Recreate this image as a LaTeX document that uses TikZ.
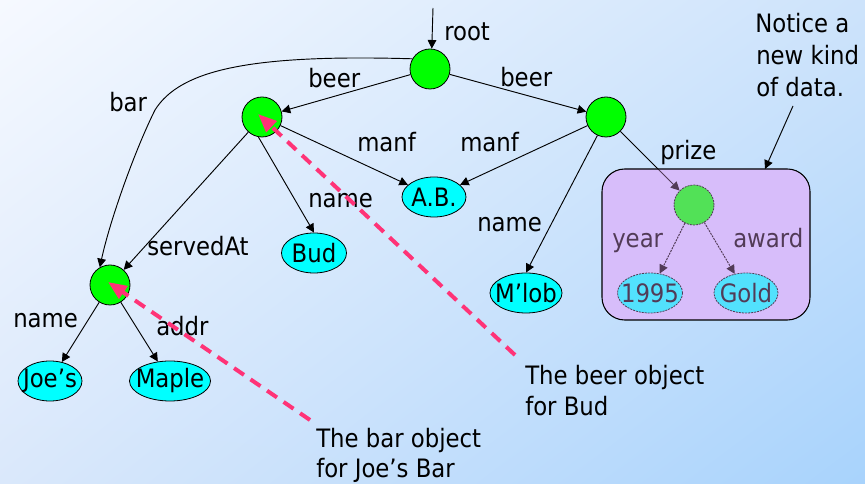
\documentclass[tikz,border=0pt]{standalone}
\usepackage{fontspec}
\setmainfont{DejaVu Sans Condensed}
\usetikzlibrary{shapes.geometric,arrows.meta,shadings}
\definecolor{bgUL}{RGB}{246,249,255}
\definecolor{bgUR}{RGB}{205,227,251}
\definecolor{bgLL}{RGB}{218,232,251}
\definecolor{bgLR}{RGB}{168,211,252}
\definecolor{objgreen}{RGB}{0,255,0}
\definecolor{valcyan}{RGB}{0,255,255}
\definecolor{notepink}{RGB}{255,51,119}
\definecolor{boxbase}{RGB}{205,200,250}
\definecolor{boxcheck}{RGB}{235,170,250}
\begin{document}
\begin{tikzpicture}[x=0.75pt,y=-0.75pt,
  font=\fontsize{19}{23}\selectfont,
  obj/.style={circle, draw=black, line width=0.6pt, fill=objgreen, minimum size=30pt, inner sep=0pt},
  val/.style={ellipse, draw=black, line width=0.6pt, fill=valcyan, minimum height=30pt, inner sep=0pt},
  edge/.style={draw=black, line width=0.7pt, -{Triangle[length=6.5pt,width=6.5pt]}},
  dith/.style={dash pattern=on 1.5pt off 0.75pt},
  lbl/.style={anchor=base west, inner sep=0pt, text=black},
  notearrow/.style={draw=notepink, line width=3pt, dash pattern=on 9pt off 6pt, -{Triangle[length=14pt,width=11pt]}}
]
\useasboundingbox (0,0) rectangle (865,484);
\shade[upper left=bgUL, upper right=bgUR, lower left=bgLL, lower right=bgLR] (0,0) rectangle (865,484);

% box background
\coordinate (boxnw) at (602,169);
\coordinate (boxse) at (810,320);
\fill[boxbase, rounded corners=17pt] (boxnw) rectangle (boxse);

% nodes
\node[obj] (root) at (430,69) {};
\node[obj] (lb) at (262,117) {};
\node[obj] (rb) at (606,117) {};
\node[obj] (bar) at (110,285) {};
\node[obj, dith] (prize) at (694,205) {};
\node[val, minimum width=48pt, label=center:{Joe’s}] (joe) at (50,381) {};
\node[val, minimum width=60.75pt, label=center:{Maple}] (maple) at (170,381) {};
\node[val, minimum width=48.75pt, label=center:{Bud}] (bud) at (314,253) {};
\node[val, minimum width=48pt, label=center:{A.B.}] (ab) at (434,197) {};
\node[val, minimum width=54pt, label=center:{M’lob}] (mlob) at (526,293) {};
\node[val, dith, minimum width=48.75pt, label=center:{1995}] (y1995) at (650,293) {};
\node[val, dith, minimum width=48pt, label=center:{Gold}] (gold) at (746,293) {};

% edges
\coordinate (rootin) at (433,8);
\draw[edge] (rootin) -- (root.85);
\draw[edge] (root) -- (lb);
\draw[edge] (root) -- (rb);
\draw[edge] (root.150) .. controls (250,54) and (180,70) .. (155,110)
  .. controls (135,150) and (110,220) .. (bar.120);
\draw[edge] (lb) -- (bar);
\draw[edge] (lb.260) -- (bud.north);
\draw[edge] (lb) -- (ab);
\draw[edge] (rb) -- (ab);
\draw[edge] (rb.245) -- (mlob.north);
\draw[edge] (rb) -- (prize);
\draw[edge, dith] (prize) -- (y1995);
\draw[edge, dith] (prize) -- (gold);
\draw[edge] (bar) -- (joe);
\draw[edge] (bar) -- (maple);

% edge labels
\node[lbl] (troot) at (444,41) {root};
\node[lbl] (tbeer1) at (308,88) {beer};
\node[lbl] (tbeer2) at (500,87) {beer};
\node[lbl] (tbar) at (109,112) {bar};
\node[lbl] (tmanf1) at (357,152) {manf};
\node[lbl] (tmanf2) at (460,152) {manf};
\node[lbl] (tname1) at (308,208) {name};
\node[lbl] (tname2) at (477,232) {name};
\node[lbl] (tserved) at (147,256) {servedAt};
\node[lbl] (tname3) at (13,328) {name};
\node[lbl] (taddr) at (156,336) {addr};
\node[lbl] (tprize) at (660,160) {prize};
\node[lbl] (tyear) at (612,248) {year};
\node[lbl] (taward) at (733,248) {award};

% dithering of the box content
\fill[boxcheck, fill opacity=0.35, rounded corners=17pt] (boxnw) rectangle (boxse);
\draw[black, line width=0.8pt, rounded corners=17pt] (boxnw) rectangle (boxse);

% notes
\node[lbl] (n1) at (755,33) {Notice a};
\node[lbl] (n2) at (756,65) {new kind};
\node[lbl] (n3) at (756,97) {of data.};
\coordinate (nstart) at (793,106);
\coordinate (ntip) at (765,169);
\draw[edge] (nstart) -- (ntip);

\coordinate (beerstart) at (515,355);
\coordinate (beertip) at (258,114);
\draw[notearrow] (beerstart) -- (beertip);
\coordinate (barstart) at (310,420);
\coordinate (bartip) at (108,282);
\draw[notearrow] (barstart) -- (bartip);

\node[lbl] (b1) at (525,385) {The beer object};
\node[lbl] (b2) at (525,416) {for Bud};
\node[lbl] (c1) at (316,448) {The bar object};
\node[lbl] (c2) at (316,478) {for Joe’s Bar};
\end{tikzpicture}
\end{document}
